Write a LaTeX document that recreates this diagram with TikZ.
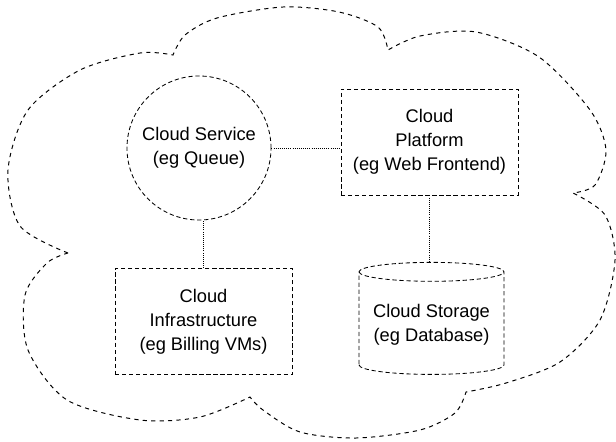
\documentclass[tikz,border=0pt]{standalone}
\usepackage{fontspec}
\setmainfont{Liberation Sans}
\usetikzlibrary{shapes.geometric}

\begin{document}
\begin{tikzpicture}[x=0.025cm,y=-0.025cm,
  every node/.style={font=\fontsize{13}{17}\selectfont,align=center,line width=0.6pt},
  box/.style={shape=rectangle,draw=black,densely dashed,minimum width=4.425cm,minimum height=2.65cm},
  link/.style={densely dotted,line width=0.5pt}]

\useasboundingbox (0,0) rectangle (616,441);

% cloud outline, one lobe at a time
\draw[dashed,line width=0.7pt]
  plot[smooth] coordinates {(68,253) (20,226) (8,170) (28,110) (80,70) (140,53) (173,55)}
  -- plot[smooth] coordinates {(173,55) (185,35) (217,18) (283,7) (339,12) (378,27) (388,50)}
  -- plot[smooth] coordinates {(388,50) (420,36) (476,32) (539,57) (590,110) (606,150) (595,185) (573,193)}
  -- plot[smooth] coordinates {(573,193) (605,215) (615,260) (600,320) (560,362) (506,383) (466,392)}
  -- plot[smooth] coordinates {(466,392) (455,413) (420,430) (356,438) (300,432) (263,410) (250,397)}
  -- plot[smooth] coordinates {(250,397) (200,417) (140,420) (67,400) (28,350) (25,295) (47,263) (68,253)};

\node[shape=circle,draw=black,densely dashed,minimum size=3.6cm] (S) at (199,148) {Cloud Service\\(eg Queue)};
\node[box] (P) at (429.5,142) {Cloud\\Platform\\(eg Web Frontend)};
\node[box] (I) at (203.5,321.5) {Cloud\\Infrastructure\\(eg Billing VMs)};
\node[shape=cylinder,shape border rotate=90,aspect=0.15,draw=black,densely dashed,
  minimum width=3.625cm,minimum height=2.8cm] (D) at (431.5,325) {Cloud Storage\\(eg Database)};

\draw[link] (S.east) -- (S.east -| P.west);
\draw[link] (I.north) -- (I.north |- S.south);
\draw[link] (P.south) -- (P.south |- D.north);

\end{tikzpicture}
\end{document}
